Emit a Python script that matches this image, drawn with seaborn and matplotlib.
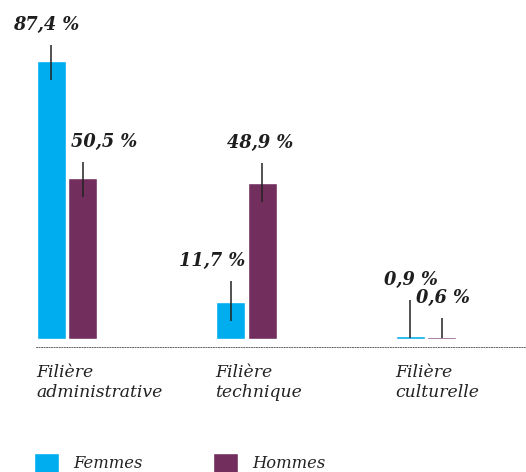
import matplotlib
matplotlib.use("Agg")
import matplotlib.pyplot as plt
import matplotlib.transforms as mtransforms
import seaborn as sns
import pandas as pd

# Data: share of each gender per career track (%)
filieres = ["Filière\nadministrative", "Filière\ntechnique", "Filière\nculturelle"]
femmes = [87.4, 11.7, 0.9]
hommes = [50.5, 48.9, 0.6]
series = ["Femmes", "Hommes"]
colors = ["#00aeef", "#722f5e"]

df = pd.DataFrame({
    "filiere": filieres * 2,
    "pct": femmes + hommes,
    "sexe": [series[0]] * 3 + [series[1]] * 3,
})

sns.set_theme(style="white")
plt.rcParams["font.family"] = ["DejaVu Serif"]

W, H = 526, 472
fig = plt.figure(figsize=(W / 100, H / 100), dpi=100)
ax = fig.add_axes([36 / W, (H - 347) / H, 490 / W, 347 / H])

sns.barplot(data=df, x="filiere", y="pct", hue="sexe", palette=colors,
            width=0.346, gap=0.065, ax=ax, saturation=1, legend=True)

ax.set_xlim(-0.1727, 2.557)
ax.set_ylim(-2.515, 106.57)
ax.set_xlabel("")
ax.set_ylabel("")
ax.set_yticks([])

for side in ["top", "right", "left"]:
    ax.spines[side].set_visible(False)
ax.spines["bottom"].set_linestyle((0, (1, 1.6)))
ax.spines["bottom"].set_color("#666666")
ax.spines["bottom"].set_linewidth(0.7)

# Category labels: left aligned on the group's left edge
ax.tick_params(axis="x", length=0, pad=12)
shift = mtransforms.ScaledTranslation(-31 / 100, 0, fig.dpi_scale_trans)
for lbl in ax.get_xticklabels():
    lbl.set_horizontalalignment("left")
    lbl.set_fontstyle("italic")
    lbl.set_fontsize(12.4)
    lbl.set_color("#222222")
    lbl.set_linespacing(1.22)
    lbl.set_transform(lbl.get_transform() + shift)

# Value labels with short leader lines (offsets in pixels from bar top)
label_offsets = {
    (0, 0): (-5, 36), (0, 1): (22, 36),
    (1, 0): (-19, 41), (1, 1): (-2, 40),
    (2, 0): (0, 56), (2, 1): (1, 39),
}
values = [femmes, hommes]
px_per_unit = 278 / 87.4
for h, cont in enumerate(ax.containers):
    for i, bar in enumerate(cont):
        v = values[h][i]
        cx = bar.get_x() + bar.get_width() / 2
        top = bar.get_height()
        dx, dy = label_offsets[(i, h)]
        ttrans = mtransforms.offset_copy(ax.transData, fig=fig, x=dx, y=dy, units="dots")
        ax.text(cx, top, f"{v:.1f}".replace(".", ",") + " %", transform=ttrans,
                ha="center", va="center", fontsize=12.8, fontweight="bold",
                fontstyle="italic", color="#1e1e1e")
        into = min(19, top * px_per_unit - 1)
        y0 = top + (dy - 20) / px_per_unit
        y1 = top - into / px_per_unit
        ax.plot([cx, cx], [y0, y1], color="#222222", lw=1.1, solid_capstyle="butt")

leg = ax.legend(loc="center left", bbox_to_anchor=(34 / W, (H - 463) / H),
                bbox_transform=fig.transFigure, ncol=2, frameon=False,
                handlelength=1.5, handleheight=1.5, handletextpad=0.9,
                columnspacing=4.3, borderpad=0, borderaxespad=0,
                prop={"family": "DejaVu Serif", "style": "italic", "size": 11.8})
for t in leg.get_texts():
    t.set_color("#222222")

fig.savefig("out.png", dpi=100)
